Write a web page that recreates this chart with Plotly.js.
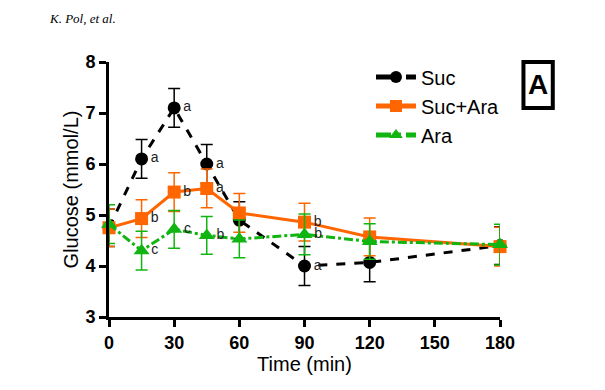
<!DOCTYPE html>
<html><head><meta charset="utf-8">
<script src="https://cdn.plot.ly/plotly-3.0.1.min.js"></script>
<style>body{margin:0;background:#fff}#c{width:605px;height:390px}</style>
</head><body><div id="c"></div>
<script>
const time = [0, 15, 30, 45, 60, 90, 120, 180];
const sucMean = [4.75, 6.1, 7.1, 6.0, 4.9, 4.0, 4.07, 4.4];
const sucErr = [0.37, 0.38, 0.38, 0.38, 0.36, 0.38, 0.38, 0.37];
const sucLabel = ["", "a", "a", "a", "", "a", "", ""];
const sucAraMean = [4.75, 4.93, 5.45, 5.52, 5.04, 4.86, 4.57, 4.38];
const sucAraErr = [0.37, 0.37, 0.38, 0.38, 0.38, 0.37, 0.37, 0.38];
const sucAraLabel = ["", "b", "b", "a", "", "b", "", ""];
const araMean = [4.82, 4.3, 4.72, 4.6, 4.53, 4.62, 4.48, 4.42];
const araErr = [0.38, 0.38, 0.37, 0.37, 0.37, 0.4, 0.35, 0.4];
const araLabel = ["", "c", "c", "b", "", "b", "", ""];
const xTicks = [0, 30, 60, 90, 120, 150, 180];
const yTicks = [3, 4, 5, 6, 7, 8];

function trace(name, y, err, labels, color, dash, symbol, size) {
  return {
    x: time, y: y, name: name, type: 'scatter', mode: 'lines+markers+text',
    text: labels, textposition: 'middle right',
    textfont: {family: 'Arial', size: 14, color: '#222'},
    line: {color: color, width: 3, dash: dash},
    marker: {color: color, symbol: symbol, size: size},
    error_y: {type: 'data', array: err, visible: true, color: color, thickness: 1.5, width: 6},
    cliponaxis: false
  };
}
const data = [
  trace('Suc', sucMean, sucErr, sucLabel, '#000000', 'dash', 'circle', 13),
  trace('Suc+Ara', sucAraMean, sucAraErr, sucAraLabel, '#ff6600', 'solid', 'square', 13),
  trace('Ara', araMean, araErr, araLabel, '#11b511', 'dashdot', 'triangle-up', 14)
];
const layout = {
  width: 605, height: 390,
  margin: {l: 109, r: 105, t: 62, b: 73},
  paper_bgcolor: '#fff', plot_bgcolor: '#fff',
  showlegend: true,
  legend: {x: 0.67, y: 1.018, xanchor: 'left', yanchor: 'top', bgcolor: 'rgba(0,0,0,0)',
    font: {family: 'Arial', size: 20, color: '#000'}, itemwidth: 40, itemsizing: 'constant'},
  xaxis: {range: [0, 180], tickvals: xTicks, ticktext: xTicks.map(String),
    showgrid: false, zeroline: false, showline: true, linecolor: '#000', linewidth: 3,
    ticks: 'outside', ticklen: 7, tickwidth: 3, tickcolor: '#000',
    tickfont: {family: 'Arial', size: 18, color: '#000', weight: 'bold'},
    title: {text: 'Time (min)', font: {family: 'Arial', size: 20, color: '#000'}, standoff: 6}},
  yaxis: {range: [3, 8], tickvals: yTicks, ticktext: yTicks.map(String),
    showgrid: false, zeroline: false, showline: true, linecolor: '#000', linewidth: 3,
    ticks: 'outside', ticklen: 7, tickwidth: 3, tickcolor: '#000',
    tickfont: {family: 'Arial', size: 18, color: '#000', weight: 'bold'},
    title: {text: 'Glucose (mmol/L)', font: {family: 'Arial', size: 20, color: '#000'}, standoff: 2}},
  shapes: [{type: 'rect', xref: 'paper', yref: 'paper', x0: 1.06, x1: 1.135, y0: 0.82, y1: 1.0,
    line: {color: '#000', width: 4}, fillcolor: 'rgba(0,0,0,0)'}],
  annotations: [
    {text: 'K. Pol, et al.', xref: 'paper', yref: 'paper', x: -0.158, y: 1.17, xanchor: 'left', yanchor: 'middle',
     showarrow: false, font: {family: 'Liberation Serif', size: 13, color: '#000', style: 'italic'}},
    {text: '<b>A</b>', xref: 'paper', yref: 'paper', x: 1.0975, y: 0.91, xanchor: 'center', yanchor: 'middle',
     showarrow: false, font: {family: 'Arial', size: 28, color: '#000'}}
  ]
};
Plotly.newPlot('c', data, layout, {displayModeBar: false, staticPlot: true});
</script></body></html>
